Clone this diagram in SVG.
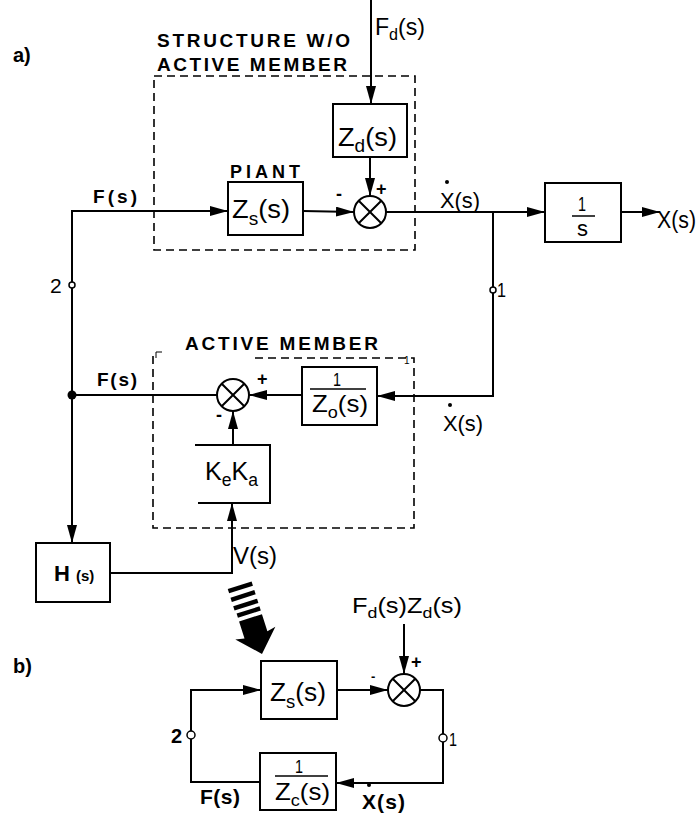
<svg xmlns="http://www.w3.org/2000/svg" width="699" height="817" viewBox="0 0 699 817">
<defs>
<marker id="ah" markerUnits="userSpaceOnUse" markerWidth="20" markerHeight="12" refX="18" refY="5" orient="auto">
<path d="M0,0 L18,5 L0,10 z" fill="#000"/>
</marker>
<style>
.ln{fill:none;stroke:#000;stroke-width:2}
.bx{fill:#fff;stroke:#000;stroke-width:2}
.ds{fill:none;stroke:#000;stroke-width:1.6;stroke-dasharray:8,5}
.t{font-family:"Liberation Sans",Arial,sans-serif;fill:#000}
.b{font-weight:bold}
.sub{font-size:0.7em}
</style>
</defs>
<rect width="699" height="817" fill="#fff"/>

<g id="labels">
<text class="t b" x="13" y="62" font-size="20">a)</text>
<text class="t b" x="157" y="47" font-size="19" textLength="193" lengthAdjust="spacing">STRUCTURE  W/O</text>
<text class="t b" x="157" y="71" font-size="19" textLength="190" lengthAdjust="spacing">ACTIVE  MEMBER</text>
<text class="t b" x="185" y="350" font-size="19" textLength="193" lengthAdjust="spacing">ACTIVE   MEMBER</text>
<text class="t" x="404" y="364" font-size="10">1</text>
<text class="t b" x="13" y="673" font-size="20">b)</text>
</g>

<g id="boundaries">
<rect class="ds" x="154" y="76" width="261" height="174"/>
<path class="ds" d="M153,356 L153,528 L414,528 L414,358 L250,358"/>
<path d="M156,358 L156,352 L162,352" fill="none" stroke="#000" stroke-width="1"/>
</g>

<g id="connectors">
<line class="ln" x1="371" y1="0" x2="371" y2="104" marker-end="url(#ah)"/>
<line class="ln" x1="370" y1="157" x2="370" y2="196" marker-end="url(#ah)"/>
<path class="ln" d="M72,395 L72,211 L228,211" marker-end="url(#ah)"/>
<line class="ln" x1="303" y1="211" x2="354" y2="212" marker-end="url(#ah)"/>
<line class="ln" x1="386" y1="212" x2="545" y2="212" marker-end="url(#ah)"/>
<line class="ln" x1="621" y1="212" x2="660" y2="212" marker-end="url(#ah)"/>
<path class="ln" d="M493,212 L493,396 L377,396" marker-end="url(#ah)"/>
<line class="ln" x1="302" y1="395" x2="249" y2="395" marker-end="url(#ah)"/>
<line class="ln" x1="217" y1="395" x2="72" y2="395"/>
<line class="ln" x1="233" y1="445" x2="233" y2="411" marker-end="url(#ah)"/>
<path class="ln" d="M110,573 L232,573 L232,503" marker-end="url(#ah)"/>
<line class="ln" x1="72" y1="395" x2="72" y2="543" marker-end="url(#ah)"/>
<circle cx="72" cy="395" r="4.5" fill="#000"/>
<circle cx="72" cy="285" r="3" fill="#fff" stroke="#000" stroke-width="1.5"/>
<circle cx="493" cy="290" r="3" fill="#fff" stroke="#000" stroke-width="1.5"/>
<path class="ln" d="M260,782 L191,782 L191,690 L261,690" marker-end="url(#ah)"/>
<line class="ln" x1="337" y1="690" x2="388" y2="690" marker-end="url(#ah)"/>
<line class="ln" x1="404" y1="624" x2="404" y2="674" marker-end="url(#ah)"/>
<path class="ln" d="M420,690 L443,690 L443,783 L336,783" marker-end="url(#ah)"/>
<circle cx="191" cy="735" r="4" fill="#fff" stroke="#000" stroke-width="1.5"/>
<circle cx="443" cy="738" r="4" fill="#fff" stroke="#000" stroke-width="1.5"/>
</g>

<g id="connector-labels">
<text class="t" x="375" y="35" font-size="24" textLength="50" lengthAdjust="spacingAndGlyphs">F<tspan class="sub" dy="5">d</tspan><tspan dy="-5">(s)</tspan></text>
<text class="t b" x="93" y="203" font-size="19" textLength="44" lengthAdjust="spacing">F(s)</text>
<text class="t b" x="97" y="386" font-size="19" textLength="40" lengthAdjust="spacing">F(s)</text>
<text class="t" x="440" y="208" font-size="22" textLength="40" lengthAdjust="spacingAndGlyphs">X(s)</text>
<circle cx="447" cy="182" r="2" fill="#000"/>
<text class="t" x="657" y="228" font-size="23" textLength="39" lengthAdjust="spacingAndGlyphs">X(s)</text>
<text class="t" x="443" y="431" font-size="22" textLength="40" lengthAdjust="spacingAndGlyphs">X(s)</text>
<circle cx="450" cy="405" r="2" fill="#000"/>
<text class="t" x="50" y="293" font-size="21">2</text>
<text class="t" x="497" y="297" font-size="21" textLength="9" lengthAdjust="spacingAndGlyphs">1</text>
<text class="t" x="233" y="564" font-size="23" textLength="44" lengthAdjust="spacingAndGlyphs">V(s)</text>
<text class="t b" x="336" y="200" font-size="18">-</text>
<text class="t b" x="376" y="195" font-size="18">+</text>
<text class="t b" x="257" y="385" font-size="18">+</text>
<text class="t b" x="216" y="421" font-size="18">-</text>
<text class="t" x="352" y="613" font-size="22" textLength="110" lengthAdjust="spacingAndGlyphs">F<tspan class="sub" dy="5">d</tspan><tspan dy="-5">(s)Z</tspan><tspan class="sub" dy="5">d</tspan><tspan dy="-5">(s)</tspan></text>
<text class="t b" x="371" y="681" font-size="13">-</text>
<text class="t b" x="411" y="668" font-size="18">+</text>
<text class="t b" x="171" y="743" font-size="20">2</text>
<text class="t" x="449" y="746" font-size="19" textLength="8" lengthAdjust="spacingAndGlyphs">1</text>
<text class="t b" x="200" y="804" font-size="21" textLength="40" lengthAdjust="spacing">F(s)</text>
<text class="t b" x="362" y="809" font-size="21" textLength="43" lengthAdjust="spacing">X(s)</text>
<circle cx="369" cy="785" r="2" fill="#000"/>
</g>

<g id="fd-zd">
<rect class="bx" x="333" y="104" width="74" height="53"/>
<text class="t" x="338" y="146" font-size="26" textLength="59" lengthAdjust="spacingAndGlyphs">Z<tspan class="sub" dy="6">d</tspan><tspan dy="-6">(s)</tspan></text>
</g>

<g id="plant">
<text class="t b" x="230" y="178" font-size="18" textLength="70" lengthAdjust="spacing">PIANT</text>
<rect class="bx" x="228" y="182" width="75" height="53"/>
<text class="t" x="232" y="218" font-size="26" textLength="58" lengthAdjust="spacingAndGlyphs">Z<tspan class="sub" dy="7">s</tspan><tspan dy="-7">(s)</tspan></text>
</g>

<g id="sum1">
<circle cx="370" cy="212" r="16" fill="#fff" stroke="#000" stroke-width="2"/>
<path class="ln" d="M358.7,200.7 L381.3,223.3 M381.3,200.7 L358.7,223.3"/>
</g>

<g id="integrator">
<rect class="bx" x="545" y="183" width="76" height="59"/>
<text class="t" x="578" y="211" font-size="20" textLength="8" lengthAdjust="spacingAndGlyphs">1</text>
<line x1="572" y1="216" x2="595" y2="216" stroke="#000" stroke-width="1.5"/>
<text class="t" x="577" y="236" font-size="22">s</text>
</g>

<g id="sum2">
<circle cx="233" cy="395" r="16" fill="#fff" stroke="#000" stroke-width="2"/>
<path class="ln" d="M221.7,383.7 L244.3,406.3 M244.3,383.7 L221.7,406.3"/>
</g>

<g id="inv-zo">
<rect class="bx" x="302" y="367" width="75" height="58"/>
<text class="t" x="333" y="386" font-size="19" textLength="8" lengthAdjust="spacingAndGlyphs">1</text>
<line x1="310" y1="389" x2="366" y2="389" stroke="#000" stroke-width="1.5"/>
<text class="t" x="312" y="412" font-size="24" textLength="56" lengthAdjust="spacingAndGlyphs">Z<tspan class="sub" dy="6">o</tspan><tspan dy="-6">(s)</tspan></text>
</g>

<g id="keka">
<path class="ln" d="M195,445 L270,445 L270,503 L198,503"/>
<text class="t" x="205" y="480" font-size="25" textLength="53" lengthAdjust="spacingAndGlyphs">K<tspan class="sub" dy="6">e</tspan><tspan dy="-6">K</tspan><tspan class="sub" dy="6">a</tspan></text>
</g>

<g id="hs">
<rect class="bx" x="36" y="543" width="74" height="59"/>
<text class="t b" x="54" y="581" font-size="22">H <tspan font-size="15">(s)</tspan></text>
</g>

<g id="transform-arrow" transform="translate(262,654) rotate(-17.6)">
<line x1="-13" y1="-70" x2="12" y2="-70" stroke="#000" stroke-width="4.5"/>
<line x1="-13" y1="-61" x2="12" y2="-61" stroke="#000" stroke-width="4.5"/>
<line x1="-13" y1="-52" x2="12" y2="-52" stroke="#000" stroke-width="4.5"/>
<line x1="-12" y1="-44" x2="12" y2="-44" stroke="#000" stroke-width="4.5"/>
<path d="M-12,-38 L12,-38 L12,-20 L21,-22 L0,0 L-21,-22 L-12,-20 z" fill="#000"/>
</g>

<g id="plant-b">
<rect class="bx" x="261" y="661" width="76" height="58"/>
<text class="t" x="270" y="701" font-size="26" textLength="56" lengthAdjust="spacingAndGlyphs">Z<tspan class="sub" dy="7">s</tspan><tspan dy="-7">(s)</tspan></text>
</g>

<g id="sum-b">
<circle cx="404" cy="690" r="16" fill="#fff" stroke="#000" stroke-width="2"/>
<path class="ln" d="M392.7,678.7 L415.3,701.3 M415.3,678.7 L392.7,701.3"/>
</g>

<g id="inv-zc">
<rect class="bx" x="260" y="753" width="76" height="57"/>
<text class="t" x="295" y="773" font-size="19" textLength="8" lengthAdjust="spacingAndGlyphs">1</text>
<line x1="275" y1="776" x2="328" y2="776" stroke="#000" stroke-width="1.5"/>
<text class="t" x="275" y="800" font-size="24" textLength="55" lengthAdjust="spacingAndGlyphs">Z<tspan class="sub" dy="6">c</tspan><tspan dy="-6">(s)</tspan></text>
</g>
</svg>
